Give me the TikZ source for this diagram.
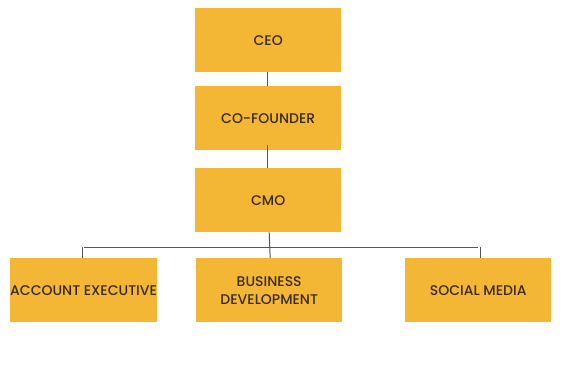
\documentclass[tikz,border=0pt]{standalone}
\usepackage{fontspec}
\setmainfont{Poppins}[UprightFont={* Medium},BoldFont={* SemiBold}]
\definecolor{boxy}{HTML}{F3B735}
\definecolor{txt}{HTML}{3A2A12}
\definecolor{ln}{HTML}{555555}
\begin{document}
\begin{tikzpicture}[x=1pt,y=-1pt,
  orgbox/.style={fill=boxy,draw=none,minimum width=146pt,minimum height=64pt,inner sep=0pt,
    text=txt,font=\fontsize{14}{18}\selectfont,align=center,anchor=north west},
  conn/.style={draw=ln,line width=1pt}]
\useasboundingbox (0,0) rectangle (572,376);
\node[orgbox] (ceo) at (195,8) {CEO};
\node[orgbox] (cof) at (195,86) {CO-FOUNDER};
\node[orgbox] (cmo) at (195,168) {CMO};
\node[orgbox] (ae) at (10,258) {ACCOUNT EXECUTIVE};
\node[orgbox] (bd) at (196,258) {BUSINESS\\DEVELOPMENT};
\node[orgbox] (sm) at (405,258) {SOCIAL MEDIA};
\coordinate (hub) at (269,247);
\draw[conn] (ceo.south) ++(-1,0) -- ++(0,14);
\draw[conn] ([yshift=5pt,xshift=-1pt]cof.south) -- ([xshift=-1pt]cmo.north);
\draw[conn] ([xshift=1pt]cmo.south) -- ([xshift=1pt]bd.north);
\draw[conn] (ae.north |- hub) -- (sm.north |- hub);
\draw[conn] (ae.north |- hub) ++(-1,0) -- ([xshift=-1pt]ae.north);
\draw[conn] (sm.north |- hub) ++(2,0) -- ([xshift=2pt]sm.north);
\end{tikzpicture}
\end{document}
